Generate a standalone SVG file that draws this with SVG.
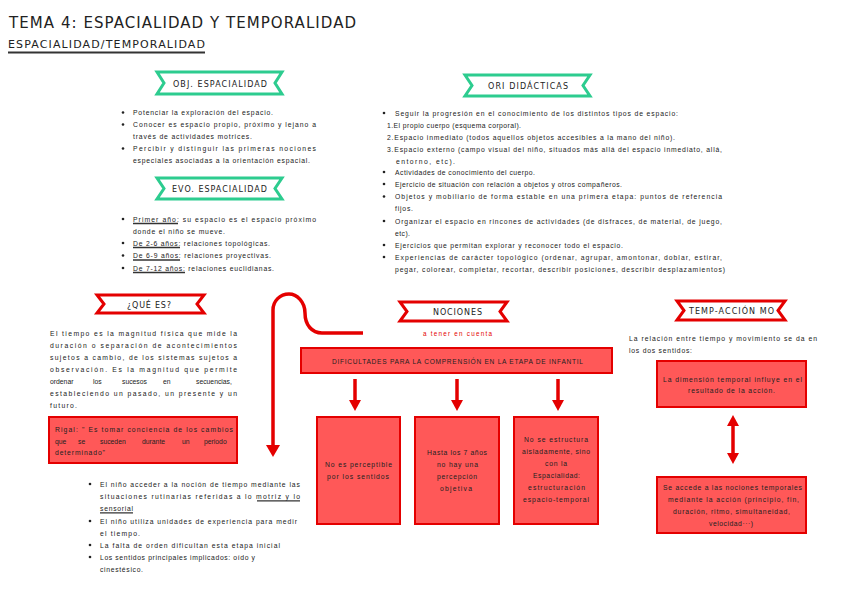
<svg xmlns="http://www.w3.org/2000/svg" width="848" height="600" viewBox="0 0 848 600">
<style>
.t{font-family:"Liberation Sans",Arial,sans-serif;font-size:6.8px;fill:#222}
.hd{font-family:"DejaVu Sans","Liberation Sans",sans-serif;font-size:8px;fill:#222}
.bg{fill:#fff;stroke:#2dcc8f;stroke-width:3}
.br{fill:#fff;stroke:#e40000;stroke-width:3}
.box{fill:#ff5858;stroke:#e40000;stroke-width:2}
.ul{stroke:#333;stroke-width:1.3}
.dot{fill:#222}
.conn{fill:none;stroke:#e40000;stroke-width:3.5}
.ah{fill:#e40000}
.red{fill:#e40000}
</style>
<rect width="848" height="600" fill="#fff"/>

<g id="title">
<text x="9" y="28" style="font-family:'DejaVu Sans','Liberation Sans',sans-serif;font-size:15px;fill:#222" textLength="347" lengthAdjust="spacing">TEMA 4: ESPACIALIDAD Y TEMPORALIDAD</text>
<text x="8" y="48" style="font-family:'DejaVu Sans','Liberation Sans',sans-serif;font-size:11px;fill:#222" textLength="197" lengthAdjust="spacing">ESPACIALIDAD/TEMPORALIDAD</text>
<line x1="8" y1="52.5" x2="205" y2="52.5" stroke="#333" stroke-width="2"/>
</g>

<g id="obj-espacialidad">
<polygon class="bg" points="157,72 282,72 275,83 282,94 157,94 164,83"/>
<text class="hd" x="173" y="86.5" textLength="94" lengthAdjust="spacing">OBJ. ESPACIALIDAD</text>
<circle class="dot" cx="123" cy="112.5" r="1.3"/>
<circle class="dot" cx="123" cy="124.5" r="1.3"/>
<circle class="dot" cx="123" cy="148.5" r="1.3"/>
<text class="t" x="133" y="115" textLength="140" lengthAdjust="spacing">Potenciar la exploración del espacio.</text>
<text class="t" x="133" y="127" textLength="183" lengthAdjust="spacing">Conocer es espacio propio, próximo y lejano a</text>
<text class="t" x="133" y="139" textLength="119" lengthAdjust="spacing">través de actividades motrices.</text>
<text class="t" x="133" y="151" textLength="183" lengthAdjust="spacing">Percibir y distinguir las primeras nociones</text>
<text class="t" x="133" y="163" textLength="177" lengthAdjust="spacing">especiales asociadas a la orientación espacial.</text>
</g>

<g id="evo-espacialidad">
<polygon class="bg" points="157,178 282,178 275,188.5 282,199 157,199 164,188.5"/>
<text class="hd" x="172" y="192" textLength="95" lengthAdjust="spacing">EVO. ESPACIALIDAD</text>
<circle class="dot" cx="123" cy="219" r="1.3"/>
<circle class="dot" cx="123" cy="243" r="1.3"/>
<circle class="dot" cx="123" cy="255.5" r="1.3"/>
<circle class="dot" cx="123" cy="268" r="1.3"/>
<text class="t" x="133" y="221.5" textLength="183" lengthAdjust="spacing">Primer año: su espacio es el espacio próximo</text>
<line class="ul" x1="133" y1="223.5" x2="178" y2="223.5"/>
<text class="t" x="133" y="233.5" textLength="92" lengthAdjust="spacing">donde el niño se mueve.</text>
<text class="t" x="133" y="245.5" textLength="137" lengthAdjust="spacing">De 2-6 años: relaciones topológicas.</text>
<line class="ul" x1="133" y1="247.5" x2="180" y2="247.5"/>
<text class="t" x="133" y="258" textLength="138" lengthAdjust="spacing">De 6-9 años: relaciones proyectivas.</text>
<line class="ul" x1="133" y1="260" x2="180" y2="260"/>
<text class="t" x="133" y="270.5" textLength="141" lengthAdjust="spacing">De 7-12 años: relaciones euclidianas.</text>
<line class="ul" x1="133" y1="272.5" x2="185" y2="272.5"/>
</g>

<g id="ori-didacticas">
<polygon class="bg" points="465,75 590,75 583,85.5 590,96 465,96 472,85.5"/>
<text class="hd" x="488" y="89" textLength="80" lengthAdjust="spacing">ORI DIDÁCTICAS</text>
<circle class="dot" cx="384" cy="113" r="1.3"/>
<circle class="dot" cx="384" cy="172" r="1.3"/>
<circle class="dot" cx="384" cy="184" r="1.3"/>
<circle class="dot" cx="384" cy="196.5" r="1.3"/>
<circle class="dot" cx="384" cy="221" r="1.3"/>
<circle class="dot" cx="384" cy="245" r="1.3"/>
<circle class="dot" cx="384" cy="257" r="1.3"/>
<text class="t" x="395" y="115.5" textLength="283" lengthAdjust="spacing">Seguir la progresión en el conocimiento de los distintos tipos de espacio:</text>
<text class="t" x="387" y="127.5" textLength="134" lengthAdjust="spacing">1.El propio cuerpo (esquema corporal).</text>
<text class="t" x="387" y="139.5" textLength="288" lengthAdjust="spacing">2.Espacio inmediato (todos aquellos objetos accesibles a la mano del niño).</text>
<text class="t" x="387" y="151.5" textLength="335" lengthAdjust="spacing">3.Espacio externo (campo visual del niño, situados más allá del espacio inmediato, allá,</text>
<text class="t" x="396" y="163.5" textLength="59" lengthAdjust="spacing">entorno, etc).</text>
<text class="t" x="395" y="174.5" textLength="140" lengthAdjust="spacing">Actividades de conocimiento del cuerpo.</text>
<text class="t" x="395" y="186.5" textLength="227" lengthAdjust="spacing">Ejercicio de situación con relación a objetos y otros compañeros.</text>
<text class="t" x="395" y="199" textLength="327" lengthAdjust="spacing">Objetos y mobiliario de forma estable en una primera etapa: puntos de referencia</text>
<text class="t" x="395" y="211" textLength="18" lengthAdjust="spacing">fijos.</text>
<text class="t" x="395" y="223.5" textLength="327" lengthAdjust="spacing">Organizar el espacio en rincones de actividades (de disfraces, de material, de juego,</text>
<text class="t" x="395" y="235.5" textLength="15" lengthAdjust="spacing">etc).</text>
<text class="t" x="395" y="247.5" textLength="228" lengthAdjust="spacing">Ejercicios que permitan explorar y reconocer todo el espacio.</text>
<text class="t" x="395" y="259.5" textLength="327" lengthAdjust="spacing">Experiencias de carácter topológico (ordenar, agrupar, amontonar, doblar, estirar,</text>
<text class="t" x="395" y="271.5" textLength="330" lengthAdjust="spacing">pegar, colorear, completar, recortar, describir posiciones, describir desplazamientos)</text>
</g>

<g id="que-es">
<polygon class="br" points="97,295 204,295 197,304 204,313 97,313 104,304"/>
<text class="hd" x="127" y="307.5" textLength="44" lengthAdjust="spacing">¿QUÉ ES?</text>
<text class="t" x="50" y="335.5" textLength="187" lengthAdjust="spacing">El tiempo es la magnitud física que mide la</text>
<text class="t" x="50" y="347.5" textLength="187" lengthAdjust="spacing">duración o separación de acontecimientos</text>
<text class="t" x="50" y="359.5" textLength="187" lengthAdjust="spacing">sujetos a cambio, de los sistemas sujetos a</text>
<text class="t" x="50" y="371.5" textLength="187" lengthAdjust="spacing">observación. Es la magnitud que permite</text>
<text class="t" y="383.5"><tspan x="50">ordenar</tspan><tspan x="93">los</tspan><tspan x="122">sucesos</tspan><tspan x="163">en</tspan><tspan x="196">secuencias,</tspan></text>
<text class="t" x="50" y="395.5" textLength="187" lengthAdjust="spacing">estableciendo un pasado, un presente y un</text>
<text class="t" x="50" y="407.5" textLength="27" lengthAdjust="spacing">futuro.</text>
</g>

<g id="rigal">
<rect class="box" x="49" y="417" width="188" height="46"/>
<text class="t" x="55" y="431.5" textLength="178" lengthAdjust="spacing">Rigal: " Es tomar conciencia de los cambios</text>
<text class="t" y="443.5"><tspan x="55">que</tspan><tspan x="78">se</tspan><tspan x="100">suceden</tspan><tspan x="142">durante</tspan><tspan x="182">un</tspan><tspan x="204">periodo</tspan></text>
<text class="t" x="55" y="454.5" textLength="50" lengthAdjust="spacing">determinado"</text>
</g>

<g id="tiempo-lista">
<circle class="dot" cx="90" cy="484" r="1.3"/>
<circle class="dot" cx="90" cy="521" r="1.3"/>
<circle class="dot" cx="90" cy="545" r="1.3"/>
<circle class="dot" cx="90" cy="557" r="1.3"/>
<text class="t" x="100" y="486.5" textLength="200" lengthAdjust="spacing">El niño acceder a la noción de tiempo mediante las</text>
<text class="t" x="100" y="498.5" textLength="200" lengthAdjust="spacing">situaciones rutinarias referidas a lo motriz y lo</text>
<line class="ul" x1="257" y1="500.8" x2="300" y2="500.8" stroke-width="1.6"/>
<text class="t" x="100" y="510.5" textLength="33" lengthAdjust="spacing">sensorial</text>
<line class="ul" x1="100" y1="512.8" x2="133" y2="512.8" stroke-width="1.6"/>
<text class="t" x="100" y="523.5" textLength="197" lengthAdjust="spacing">El niño utiliza unidades de experiencia para medir</text>
<text class="t" x="100" y="535.5" textLength="40" lengthAdjust="spacing">el tiempo.</text>
<text class="t" x="100" y="547.5" textLength="180" lengthAdjust="spacing">La falta de orden dificultan esta etapa inicial</text>
<text class="t" x="100" y="559.5" textLength="155" lengthAdjust="spacing">Los sentidos principales implicados: oído y</text>
<text class="t" x="100" y="571.5" textLength="43" lengthAdjust="spacing">cinestésico.</text>
</g>

<g id="nociones">
<polygon class="br" points="400,302 507,302 500,311.5 507,321 400,321 407,311.5"/>
<text class="hd" x="433" y="315" textLength="49" lengthAdjust="spacing">NOCIONES</text>
<text class="t red" x="423" y="335.5" style="font-size:6.3px" textLength="69" lengthAdjust="spacing">a tener en cuenta</text>
</g>

<g id="dificultades">
<rect class="box" x="301" y="348" width="311" height="25"/>
<text class="t" x="332" y="363.5" style="font-size:6.6px" textLength="251" lengthAdjust="spacing">DIFICULTADES PARA LA COMPRENSIÓN EN LA ETAPA DE INFANTIL</text>
</g>

<g id="dif-1">
<rect class="box" x="317" y="417" width="83" height="107"/>
<text class="t" x="325" y="466.5" textLength="67" lengthAdjust="spacing">No es perceptible</text>
<text class="t" x="327" y="478.5" textLength="62" lengthAdjust="spacing">por los sentidos</text>
</g>
<g id="dif-2">
<rect class="box" x="415" y="417" width="84" height="107"/>
<text class="t" x="427" y="454.5" textLength="60" lengthAdjust="spacing">Hasta los 7 años</text>
<text class="t" x="437" y="466.5" textLength="41" lengthAdjust="spacing">no hay una</text>
<text class="t" x="437" y="478.5" textLength="40" lengthAdjust="spacing">percepción</text>
<text class="t" x="440" y="490.5" textLength="32" lengthAdjust="spacing">objetiva</text>
</g>
<g id="dif-3">
<rect class="box" x="514" y="417" width="84" height="107"/>
<text class="t" x="524" y="441.5" textLength="64" lengthAdjust="spacing">No se estructura</text>
<text class="t" x="522" y="453.5" textLength="68" lengthAdjust="spacing">aisladamente, sino</text>
<text class="t" x="545" y="465.5" textLength="22" lengthAdjust="spacing">con la</text>
<text class="t" x="533" y="477.5" textLength="47" lengthAdjust="spacing">Espacialidad:</text>
<text class="t" x="528" y="489.5" textLength="57" lengthAdjust="spacing">estructuración</text>
<text class="t" x="523" y="501.5" textLength="66" lengthAdjust="spacing">espacio-temporal</text>
</g>

<g id="temp-accion">
<polygon class="br" points="677,301 785,301 778,310.5 785,320 677,320 684,310.5"/>
<text class="hd" x="689" y="314" textLength="85" lengthAdjust="spacing">TEMP-ACCIÓN MO</text>
<text class="t" x="629" y="341" textLength="188" lengthAdjust="spacing">La relación entre tiempo y movimiento se da en</text>
<text class="t" x="629" y="353" textLength="63" lengthAdjust="spacing">los dos sentidos:</text>
</g>
<g id="accion-1">
<rect class="box" x="657" y="361" width="149" height="46"/>
<text class="t" x="663" y="381.5" textLength="139" lengthAdjust="spacing">La dimensión temporal influye en el</text>
<text class="t" x="688" y="393" textLength="87" lengthAdjust="spacing">resultado de la acción.</text>
</g>
<g id="accion-2">
<rect class="box" x="657" y="477" width="149" height="56"/>
<text class="t" x="663" y="489.5" textLength="139" lengthAdjust="spacing">Se accede a las nociones temporales</text>
<text class="t" x="668" y="501.5" textLength="131" lengthAdjust="spacing">mediante la acción (principio, fin,</text>
<text class="t" x="673" y="513.5" textLength="117" lengthAdjust="spacing">duración, ritmo, simultaneidad,</text>
<text class="t" x="709" y="525.5" textLength="44" lengthAdjust="spacing">velocidad···)</text>
</g>

<g id="connectors">
<path class="conn" d="M363,333 L322,333 C312,333 305,325 305,313 C305,302 297,294 289,294 C280,294 273,301 273,310 L273,447"/>
<polygon class="ah" points="266,445 280,445 273,457"/>
<line class="conn" x1="355" y1="379" x2="355" y2="401"/>
<polygon class="ah" points="349,400 361,400 355,411"/>
<line class="conn" x1="457" y1="379" x2="457" y2="401"/>
<polygon class="ah" points="451,400 463,400 457,411"/>
<line class="conn" x1="558" y1="379" x2="558" y2="401"/>
<polygon class="ah" points="552,400 564,400 558,411"/>
<line class="conn" x1="733" y1="424" x2="733" y2="455"/>
<polygon class="ah" points="727,426 739,426 733,415"/>
<polygon class="ah" points="727,453 739,453 733,464"/>
</g>
</svg>
